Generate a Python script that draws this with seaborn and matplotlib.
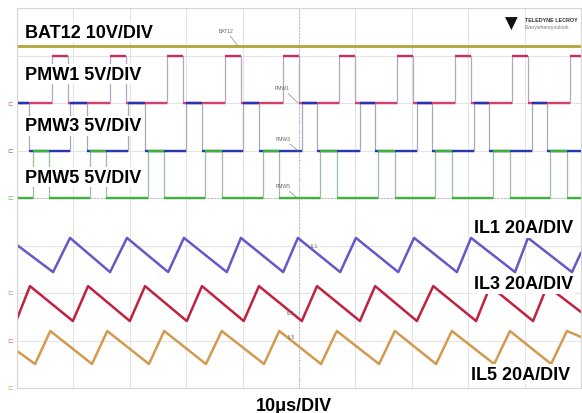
import numpy as np
import matplotlib
matplotlib.use("Agg")
import matplotlib.pyplot as plt
import seaborn as sns

# ---------------- data (time in microseconds, 10 us/DIV) ----------------
pmw1_rise = [6.2, 16.5, 26.6, 36.9, 47.2, 57.1, 67.4, 77.7, 87.8, 98.0]
pmw1_fall = [9.0, 19.3, 29.4, 39.7, 50.0, 59.9, 70.2, 80.5, 90.6]
pmw3_rise = [9.4, 19.7, 29.9, 40.1, 50.5, 60.8, 70.9, 81.0, 91.3]
pmw3_fall = [2.1, 12.4, 22.7, 32.8, 42.9, 53.2, 63.5, 73.6, 83.7, 94.0]
pmw5_rise = [2.8, 12.9, 23.2, 33.3, 43.6, 53.7, 64.0, 74.1, 84.4, 94.5]
pmw5_fall = [5.7, 15.8, 26.1, 36.3, 46.5, 56.7, 67.0, 77.1, 87.4, 97.5]
pmw_high_v = 5.0          # volts
bat12_v = 12.0            # volts

il1_t = [0.0, 6.4, 9.4, 16.5, 19.5, 26.8, 29.6, 37.2, 39.7, 47.2, 49.8, 57.3,
         60.1, 67.6, 70.4, 78.0, 80.5, 88.3, 90.6, 98.4, 100.0]
il1_a = [20.2, 8.8, 23.2, 8.8, 23.2, 8.8, 23.2, 8.8, 23.2, 8.8, 23.2, 8.8,
         23.2, 8.8, 23.2, 8.8, 23.2, 8.8, 23.2, 8.8, 17.0]
il3_t = [0.0, 2.3, 9.9, 12.6, 20.0, 22.7, 30.1, 32.8, 40.2, 42.9, 50.5, 53.2,
         60.8, 63.5, 70.9, 73.8, 81.4, 83.9, 91.5, 94.0, 100.0]
il3_a = [9.1, 22.9, 8.2, 22.9, 8.2, 22.9, 8.2, 22.9, 8.2, 22.9, 8.2, 22.9,
         8.2, 22.9, 8.2, 22.9, 8.2, 22.9, 8.2, 22.9, 12.0]
il5_t = [0.0, 3.2, 5.9, 13.3, 16.0, 23.4, 26.1, 33.5, 36.3, 43.8, 46.5, 53.9,
         56.7, 64.2, 67.0, 74.3, 77.1, 84.6, 87.4, 94.7, 97.5, 100.0]
il5_a = [15.6, 10.1, 24.0, 10.1, 24.0, 10.1, 24.0, 10.1, 24.0, 10.1, 24.0, 10.1,
         24.0, 10.1, 24.0, 10.1, 24.0, 10.1, 24.0, 10.1, 24.0, 21.5]

# channel settings: (offset in DIV, units per DIV)
ch_bat12 = (6.0, 10.0)
ch_pmw1 = (6.0, 5.0)
ch_pmw3 = (5.0, 5.0)
ch_pmw5 = (4.0, 5.0)
ch_il1 = (2.0, 20.0)
ch_il3 = (1.0, 20.0)
ch_il5 = (0.0, 20.0)

# ---------------- styling ----------------
sns.set_theme(style="white")
plt.rcParams["font.family"] = ["Liberation Sans", "DejaVu Sans"]

fig = plt.figure(figsize=(5.82, 4.14), dpi=100)
ax = fig.add_axes([17 / 582, 25 / 414, 564 / 582, 380 / 414])
ax.set_xlim(0, 100)
ax.set_ylim(0, 8)
ax.set_xticks(np.arange(0, 101, 10))
ax.set_yticks(np.arange(0, 9, 1))
ax.grid(True, color="#e4e4e4", lw=0.8)
ax.tick_params(length=0, labelbottom=False, labelleft=False)
for s in ax.spines.values():
    s.set_color("#d6d6d6")
    s.set_linewidth(0.8)

# center cross-hair (subtle dotted)
ax.axvline(50, color="#b4b4b4", lw=0.6, ls=(0, (2, 2)), zorder=1)
ax.axhline(4, color="#b4b4b4", lw=0.6, ls=(0, (2, 2)), zorder=1)
ax.plot([50] * 41, np.arange(0, 8.01, 0.2), ls="none", marker="_", ms=2,
        mew=0.4, color="#c4c4c4", zorder=1)


def to_div(vals, ch):
    off, scale = ch
    return off + np.asarray(vals, dtype=float) / scale


def step_trace(rise, fall, high):
    edges = sorted([(t, 1) for t in rise] + [(t, 0) for t in fall])
    state = 1 - edges[0][1]
    ts, vs, segs = [0.0], [state * high], []
    start = 0.0
    for t, new in edges:
        ts += [t, t]
        vs += [state * high, new * high]
        segs.append((start, t, state))
        state, start = new, t
    ts.append(100.0)
    vs.append(state * high)
    segs.append((start, 100.0, state))
    return ts, vs, segs


# BAT12
sns.lineplot(x=[0.0, 100.0], y=to_div([bat12_v, bat12_v], ch_bat12),
             color="#b2a535", lw=2.0, ax=ax, sort=False, estimator=None)


def draw_pwm(rise, fall, ch, edge_col, hi_col, lo_col):
    ts, vs, segs = step_trace(rise, fall, pmw_high_v)
    sns.lineplot(x=ts, y=to_div(vs, ch), color=edge_col, lw=0.9, ax=ax,
                 sort=False, estimator=None)
    for a, b, st in segs:
        yv = to_div([st * pmw_high_v], ch)[0]
        ax.hlines(yv, a, b, color=hi_col if st else lo_col, lw=1.7, zorder=2.5)


draw_pwm(pmw1_rise, pmw1_fall, ch_pmw1, "#b9a3c4", "#c52f63", "#d2406e")
draw_pwm(pmw3_rise, pmw3_fall, ch_pmw3, "#a4aabb", "#2434b4", "#2838b0")
draw_pwm(pmw5_rise, pmw5_fall, ch_pmw5, "#9fbe9f", "#3cb43c", "#3cb43c")

# inductor currents
sns.lineplot(x=il1_t, y=to_div(il1_a, ch_il1), color="#6558c8", lw=1.8,
             ax=ax, sort=False, estimator=None)
sns.lineplot(x=il3_t, y=to_div(il3_a, ch_il3), color="#c0213f", lw=1.8,
             ax=ax, sort=False, estimator=None)
sns.lineplot(x=il5_t, y=to_div(il5_a, ch_il5), color="#d39a4f", lw=1.8,
             ax=ax, sort=False, estimator=None)

ax.set_xlabel("")
ax.set_ylabel("")

# ---------------- labels ----------------
box = dict(facecolor="white", edgecolor="none", pad=1.0)
lab = dict(fontsize=13, fontweight="bold", color="black", va="center",
           bbox=box, zorder=5)
ax.text(1.4, 7.49, "BAT12 10V/DIV", ha="left", **lab)
ax.text(1.4, 6.61, "PMW1 5V/DIV", ha="left", **lab)
ax.text(1.4, 5.52, "PMW3 5V/DIV", ha="left", **lab)
ax.text(1.4, 4.44, "PMW5 5V/DIV", ha="left", **lab)
ax.text(98.6, 3.37, "IL1 20A/DIV", ha="right", **lab)
ax.text(98.6, 2.19, "IL3 20A/DIV", ha="right", **lab)
ax.text(98.1, 0.29, "IL5 20A/DIV", ha="right", **lab)
fig.text(294 / 582, 1 - 407 / 414, "10μs/DIV", ha="center", va="center",
         fontsize=13, fontweight="bold", color="black")

# small trace tags with leader lines
tags = [("BAT12", (37.0, 7.48), (39.2, 7.2)),
        ("PMW1", (47.0, 6.27), (49.8, 6.0)),
        ("PMW3", (47.2, 5.2), (49.8, 5.0)),
        ("PMW5", (47.2, 4.21), (49.8, 3.98))]
for name, xyt, xy in tags:
    ax.annotate(name, xy=xy, xytext=xyt, fontsize=3.6, color="#666666",
                ha="center", va="bottom",
                arrowprops=dict(arrowstyle="-", color="#888888", lw=0.5,
                                shrinkA=0, shrinkB=0), zorder=4)
ax.text(52.7, 2.99, "IL1", fontsize=3.8, color="#666666", ha="center", va="center")
ax.text(48.4, 1.58, "IL3", fontsize=3.8, color="#666666", ha="center", va="center")
ax.text(48.6, 1.09, "IL5", fontsize=3.8, color="#666666", ha="center", va="center")

# channel ground markers
markers = [(6.0, "#d47aa0"), (5.0, "#7b7bd0"), (4.0, "#6cc46c"),
           (2.0, "#a0a0e0"), (1.0, "#e07070"), (0.0, "#e0b070")]
for yv, c in markers:
    ax.text(-0.6, yv, "⊏", fontsize=5, color=c, ha="right", va="center",
            clip_on=False)

# logo
fig.text(511 / 582, 1 - 24 / 414, "▼", fontsize=12, color="#111111",
         ha="center", va="center", fontfamily="DejaVu Sans")
fig.text(525 / 582, 1 - 20 / 414, "TELEDYNE LECROY", fontsize=3.9,
         fontweight="bold", color="#333333", ha="left", va="center")
fig.text(525 / 582, 1 - 28 / 414, "Everywhereyoulook", fontsize=3.6,
         color="#777777", ha="left", va="center")

fig.savefig("out.png", dpi=100)
